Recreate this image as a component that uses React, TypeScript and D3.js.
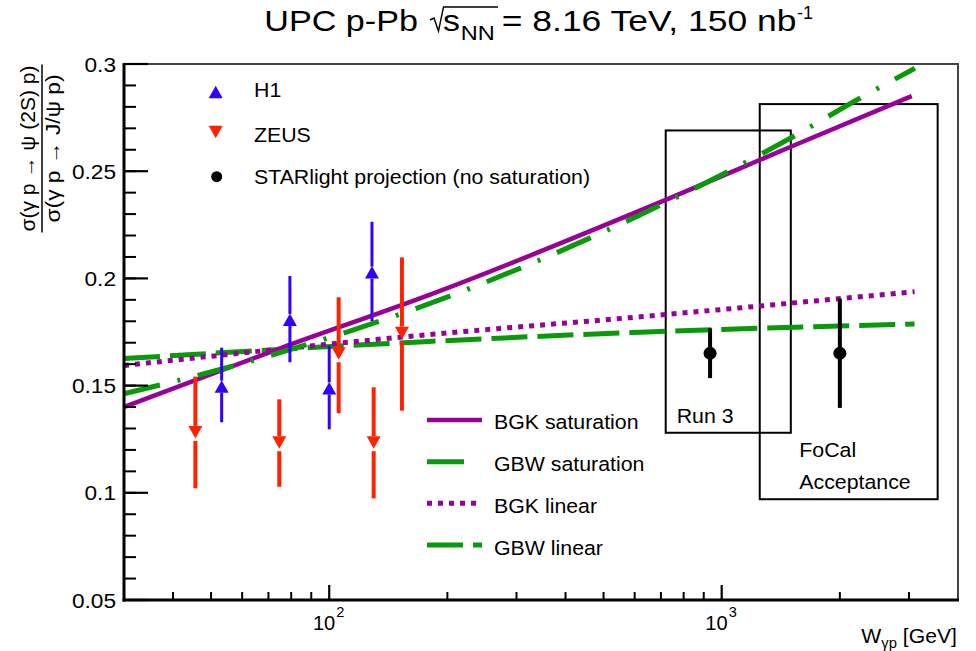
import React from 'react';
import * as d3 from 'd3';

const W = 976, H = 651;
const X0 = 124, X1 = 958, Y0 = 64, Y1 = 600;
const FONT = '"Liberation Sans", Arial, Helvetica, sans-serif';

const xDomain = [30, 4000];
const yDomain = [0.05, 0.3];

// H1 data
const h1W = [53.2, 79.4, 100, 128.5];
const h1R = [0.1495, 0.1806, 0.1487, 0.2027];
const h1Lo = [0.1329, 0.1609, 0.1296, 0.1801];
const h1Hi = [0.1677, 0.2011, 0.1686, 0.2264];

// ZEUS data
const zeusW = [45.6, 74.6, 105.7, 129.8, 153.2];
const zeusR = [0.1284, 0.1236, 0.1651, 0.1236, 0.1747];
const zeusLo = [0.1021, 0.1028, 0.1371, 0.0974, 0.1383];
const zeusHi = [0.1542, 0.1436, 0.1912, 0.1492, 0.2098];

// STARlight projections
const starW = [934, 2000];
const starR = [0.1651, 0.1651];
const starErr = [0.0116, 0.0255];

// Model curves
const bgkSatW = [30, 75, 180, 720, 1500, 3050];
const bgkSatR = [0.14, 0.1674, 0.1923, 0.2366, 0.2614, 0.285];
const gbwSatW = [30, 56, 122, 173, 619, 1519, 2207, 3108];
const gbwSatR = [0.1462, 0.1588, 0.1775, 0.1871, 0.2296, 0.2661, 0.2832, 0.298];
const bgkLinW = [30, 175, 620, 3100];
const bgkLinR = [0.1594, 0.1736, 0.1821, 0.1938];
const gbwLinW = [30, 175, 620, 3100];
const gbwLinR = [0.1626, 0.1705, 0.1749, 0.1787];

// Boxes
const run3W = [720, 1500];
const run3R = [0.128, 0.269];
const focalW = [1250, 3550];
const focalR = [0.097, 0.2813];

// Ticks
const yMajor = [0.05, 0.1, 0.15, 0.2, 0.25, 0.3];
const yMajorLabels = ['0.05', '0.1', '0.15', '0.2', '0.25', '0.3'];
const yMinor = d3.range(5, 31).map((i) => i / 100);
const xMajor = [100, 1000];
const xMajorExp = ['2', '3'];
const xMinor = [40, 50, 60, 70, 80, 90, 200, 300, 400, 500, 600, 700, 800, 900, 2000, 3000];

const PURPLE = '#990099';
const GREEN = '#0a990a';
const BLUE = '#3300ff';
const RED = '#ff2200';

type TP = { x: number; y: number; sx?: number; size?: number; anchor?: string; children?: any; [k: string]: any };
const T = ({ x, y, sx = 1.04, size = 20.5, anchor = 'start', children, ...rest }: TP) => (
  <text transform={`translate(${x},${y}) scale(${sx},1)`} fontSize={size} textAnchor={anchor} fontFamily={FONT} fill="#000" {...rest}>
    {children}
  </text>
);

export default function App() {
  const x = d3.scaleLog().domain(xDomain).range([X0, X1]);
  const y = d3.scaleLinear().domain(yDomain).range([Y1, Y0]);

  const line = d3
    .line<[number, number]>()
    .x((d) => x(d[0]))
    .y((d) => y(d[1]))
    .curve(d3.curveMonotoneX);

  const zip = (a: number[], b: number[]) => a.map((v, i) => [v, b[i]] as [number, number]);

  const triUp = (cx: number, cy: number) => `M${cx},${cy - 6.5}L${cx + 7},${cy + 6}L${cx - 7},${cy + 6}Z`;
  const triDown = (cx: number, cy: number) => `M${cx},${cy + 6.5}L${cx + 7},${cy - 6}L${cx - 7},${cy - 6}Z`;

  const legendX1 = 427, legendX2 = 482;
  const legendRows = [420, 461.7, 503.3, 545];

  return (
    <svg width={W} height={H} style={{ position: 'absolute', left: 0, top: 0, background: '#fff' }}>
      <rect x={0} y={0} width={W} height={H} fill="#fff" />

      {/* Title */}
      <g fontFamily={FONT} fill="#000">
        <text x={264.3} y={31} fontSize={29} textLength={153.6} lengthAdjust="spacingAndGlyphs">UPC p-Pb</text>
        <path d="M430,20 L434,18 L438.5,31 L443.5,7 L498,7" fill="none" stroke="#000" strokeWidth={1.4} />
        <text x={443} y={31} fontSize={29} textLength={17} lengthAdjust="spacingAndGlyphs">s</text>
        <text x={460.7} y={40} fontSize={20} textLength={34} lengthAdjust="spacingAndGlyphs">NN</text>
        <text x={501.8} y={31} fontSize={29} textLength={294.6} lengthAdjust="spacingAndGlyphs">= 8.16 TeV, 150 nb</text>
        <text x={797} y={19} fontSize={19} textLength={16} lengthAdjust="spacingAndGlyphs">-1</text>
      </g>

      {/* Boxes */}
      <rect x={x(run3W[0])} y={y(run3R[1])} width={x(run3W[1]) - x(run3W[0])} height={y(run3R[0]) - y(run3R[1])} fill="none" stroke="#000" strokeWidth={2} />
      <rect x={x(focalW[0])} y={y(focalR[1])} width={x(focalW[1]) - x(focalW[0])} height={y(focalR[0]) - y(focalR[1])} fill="none" stroke="#000" strokeWidth={2} />
      <T x={676.7} y={422.7}>Run 3</T>
      <T x={799.3} y={456.7}>FoCal</T>
      <T x={799.3} y={489.3}>Acceptance</T>

      {/* Curves */}
      <path d={line(zip(gbwLinW, gbwLinR)) || ''} fill="none" stroke={GREEN} strokeWidth={5} strokeDasharray="36 10" />
      <path d={line(zip(bgkLinW, bgkLinR)) || ''} fill="none" stroke={PURPLE} strokeWidth={5} strokeDasharray="5 6" />
      <path d={line(zip(bgkSatW, bgkSatR)) || ''} fill="none" stroke={PURPLE} strokeWidth={4.5} />
      <path d={line(zip(gbwSatW, gbwSatR)) || ''} fill="none" stroke={GREEN} strokeWidth={5} strokeDasharray="37 18 3 18" />

      {/* H1 */}
      {h1W.map((w, i) => {
        const cx = x(w), cy = y(h1R[i]);
        return (
          <g key={'h1' + i}>
            <line x1={cx} x2={cx} y1={y(h1Hi[i])} y2={cy - 6} stroke={BLUE} strokeWidth={3} />
            <line x1={cx} x2={cx} y1={cy + 6} y2={y(h1Lo[i])} stroke={BLUE} strokeWidth={3} />
            <path d={triUp(cx, cy)} fill={BLUE} />
          </g>
        );
      })}

      {/* ZEUS */}
      {zeusW.map((w, i) => {
        const cx = x(w), cy = y(zeusR[i]);
        return (
          <g key={'z' + i}>
            <line x1={cx} x2={cx} y1={y(zeusHi[i])} y2={cy - 6} stroke={RED} strokeWidth={4} />
            <line x1={cx} x2={cx} y1={cy + 9} y2={y(zeusLo[i])} stroke={RED} strokeWidth={4} />
            <path d={triDown(cx, cy)} fill={RED} />
          </g>
        );
      })}

      {/* STARlight */}
      {starW.map((w, i) => {
        const cx = x(w), cy = y(starR[i]);
        return (
          <g key={'s' + i}>
            <line x1={cx} x2={cx} y1={y(starR[i] + starErr[i])} y2={y(starR[i] - starErr[i])} stroke="#000" strokeWidth={4} />
            <circle cx={cx} cy={cy} r={6.5} fill="#000" />
          </g>
        );
      })}

      {/* Frame */}
      <rect x={X0} y={Y0} width={X1 - X0} height={Y1 - Y0} fill="none" stroke="#444" strokeWidth={2} />
      <line x1={X0} x2={X0} y1={Y0 - 1} y2={Y1 + 1.5} stroke="#000" strokeWidth={3} />
      <line x1={X0 - 1.5} x2={X1 + 1} y1={Y1} y2={Y1} stroke="#000" strokeWidth={3} />

      {/* Y ticks */}
      {yMinor.map((v, i) => (
        <line key={'ym' + i} x1={X0} x2={X0 + 12} y1={y(v)} y2={y(v)} stroke="#000" strokeWidth={2} />
      ))}
      {yMajor.map((v, i) => (
        <g key={'yM' + i}>
          <line x1={X0} x2={X0 + 24} y1={y(v)} y2={y(v)} stroke="#000" strokeWidth={2.2} />
          <T x={116} y={y(v) + 7.5} anchor="end" size={21} sx={1.08}>{yMajorLabels[i]}</T>
        </g>
      ))}

      {/* X ticks */}
      {xMinor.map((v, i) => (
        <line key={'xm' + i} x1={x(v)} x2={x(v)} y1={Y1} y2={Y1 - 8} stroke="#000" strokeWidth={2} />
      ))}
      {xMajor.map((v, i) => (
        <g key={'xM' + i}>
          <line x1={x(v)} x2={x(v)} y1={Y1} y2={Y1 - 15} stroke="#000" strokeWidth={2.2} />
          <T x={x(v) + 6} y={630} anchor="end" size={20.5} sx={0.98}>10</T>
          <T x={x(v) + 7} y={617} size={14}>{xMajorExp[i]}</T>
        </g>
      ))}

      {/* X axis title */}
      <T x={957} y={642.7} anchor="end" size={20} sx={1.06}>
        W<tspan dy={5} fontSize={14}>γp</tspan><tspan dy={-5}> [GeV]</tspan>
      </T>

      {/* Y axis title */}
      <g transform="translate(0,148.5) rotate(-90)" fontFamily={FONT} fill="#000">
        <text x={-83} y={35} fontSize={19.5} textLength={166} lengthAdjust="spacingAndGlyphs">σ(γ p → ψ (2S) p)</text>
        <line x1={-84} x2={84} y1={42} y2={42} stroke="#000" strokeWidth={1.5} />
        <text x={-74} y={60} fontSize={19.5} textLength={148} lengthAdjust="spacingAndGlyphs">σ(γ p → J/ψ p)</text>
      </g>

      {/* Top legend */}
      <path d={triUp(215.7, 92.3)} fill={BLUE} />
      <T x={254} y={97.3}>H1</T>
      <path d={triDown(215.7, 131.7)} fill={RED} />
      <T x={254} y={141.7}>ZEUS</T>
      <circle cx={216.7} cy={176.7} r={5.5} fill="#000" />
      <T x={254} y={184}>STARlight projection (no saturation)</T>

      {/* Bottom legend */}
      <line x1={legendX1} x2={legendX2} y1={legendRows[0]} y2={legendRows[0]} stroke={PURPLE} strokeWidth={4.5} />
      <T x={494} y={429.3}>BGK saturation</T>
      <line x1={legendX1} x2={legendX2} y1={legendRows[1]} y2={legendRows[1]} stroke={GREEN} strokeWidth={5} strokeDasharray="37 18 3 18" />
      <T x={494} y={470.7}>GBW saturation</T>
      <line x1={legendX1} x2={legendX2} y1={legendRows[2]} y2={legendRows[2]} stroke={PURPLE} strokeWidth={5} strokeDasharray="5 6" />
      <T x={494} y={512.7}>BGK linear</T>
      <line x1={legendX1} x2={legendX2} y1={legendRows[3]} y2={legendRows[3]} stroke={GREEN} strokeWidth={5} strokeDasharray="36 10" />
      <T x={494} y={555}>GBW linear</T>
    </svg>
  );
}
